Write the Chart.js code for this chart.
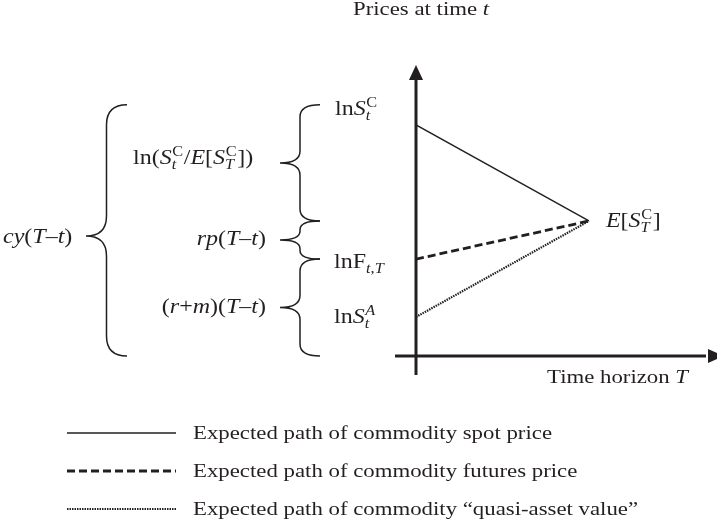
<!DOCTYPE html>
<html>
<head>
<meta charset="utf-8">
<script src="https://cdn.jsdelivr.net/npm/chart.js@4/dist/chart.umd.min.js"></script>
<style>
  html, body { margin: 0; padding: 0; background: #ffffff; }
  #wrap { width: 717px; height: 529px; position: relative; }
</style>
</head>
<body>
<div id="wrap"><canvas id="chart"></canvas></div>
<script>
// Time from t (0) to maturity T (1), in horizon units
const horizon = [0, 1];

// Log-price levels of the three expected paths (they meet at E[S_T^C])
const spotPath = [7.94, 4.64];
const futuresPath = [3.33, 4.64];
const quasiPath = [1.34, 4.64];

// Levels bounded by the braces: top of lnS^C, E[S_T^C], lnF, floor
const braceLevels = [8.63, 4.64, 3.33, 0];

const seriesNames = [
  'Expected path of commodity spot price',
  'Expected path of commodity futures price',
  'Expected path of commodity \u201Cquasi-asset value\u201D'
];

const axisTitles = { y: 'Prices at time ', x: 'Time horizon ' };

const INK = '#231f20';
const FONT = '"Liberation Serif", "Times New Roman", serif';
const SX = 1.2;      // horizontal stretch of the text face
const BASE = 19;     // plain text size, px
const MATH = 20;     // formula label size, px

// ---------- rich text helpers (italics, sub/superscripts) ----------
function fontFor(size, italic) {
  return (italic ? 'italic ' : '') + size + 'px ' + FONT;
}
function simpleWidth(ctx, list, size) {
  let w = 0;
  for (const p of list) { ctx.font = fontFor(size, p.i); w += ctx.measureText(p.t).width; }
  return w;
}
function partWidth(ctx, p, size) {
  const ss = size * 0.68;
  if (p.sup || p.sub) {
    return Math.max(p.sup ? simpleWidth(ctx, p.sup, ss) : 0, p.sub ? simpleWidth(ctx, p.sub, ss) : 0) + 1;
  }
  ctx.font = fontFor(size, p.i);
  return ctx.measureText(p.t).width;
}
function drawSimple(ctx, list, x, y, size) {
  for (const p of list) {
    ctx.font = fontFor(size, p.i);
    ctx.fillText(p.t, x, y);
    x += ctx.measureText(p.t).width;
  }
}
function drawRich(ctx, parts, x, y, size, align) {
  ctx.save();
  ctx.fillStyle = INK;
  ctx.textBaseline = 'alphabetic';
  ctx.textAlign = 'left';
  let total = 0;
  for (const p of parts) total += partWidth(ctx, p, size);
  const x0 = align === 'right' ? x - total * SX : x;
  ctx.translate(x0, y);
  ctx.scale(SX, 1);
  let cx = 0;
  const ss = size * 0.68;
  for (const p of parts) {
    if (p.sup || p.sub) {
      if (p.sup) drawSimple(ctx, p.sup, cx + 0.5, -size * 0.40, ss);
      if (p.sub) drawSimple(ctx, p.sub, cx, size * 0.24, ss);
    } else {
      ctx.font = fontFor(size, p.i);
      ctx.fillText(p.t, cx, 0);
    }
    cx += partWidth(ctx, p, size);
  }
  ctx.restore();
}
const R = t => ({ t });
const I = t => ({ t, i: true });

// ---------- labels ----------
const labelSpotStart = [R('ln'), I('S'), { sup: [R('C')], sub: [I('t')] }];
const labelFutStart = [R('lnF'), { sub: [I('t'), R(','), I('T')] }];
const labelQuasiStart = [R('ln'), I('S'), { sup: [I('A')], sub: [I('t')] }];
const labelMeet = [I('E'), R('['), I('S'), { sup: [R('C')], sub: [I('T')] }, R(']')];
const labelRatio = [R('ln('), I('S'), { sup: [R('C')], sub: [I('t')] }, R('/'), I('E'), R('['), I('S'),
                    { sup: [R('C')], sub: [I('T')] }, R('])')];
const labelRp = [I('rp'), R('('), I('T'), R('\u2013'), I('t'), R(')')];
const labelRm = [R('('), I('r'), R('+'), I('m'), R(')('), I('T'), R('\u2013'), I('t'), R(')')];
const labelCy = [I('cy'), R('('), I('T'), R('\u2013'), I('t'), R(')')];

// ---------- brace drawing ----------
function brace(ctx, xTip, xArm, yTop, yBot, yTip, r) {
  const xm = (xTip + xArm) / 2;
  const rt = Math.min(r, (yTip - yTop) / 2.2);
  const rb = Math.min(r, (yBot - yTip) / 2.2);
  ctx.beginPath();
  ctx.moveTo(xArm, yTop);
  ctx.quadraticCurveTo(xm, yTop, xm, yTop + rt);
  ctx.lineTo(xm, yTip - rt);
  ctx.quadraticCurveTo(xm, yTip, xTip, yTip);
  ctx.quadraticCurveTo(xm, yTip, xm, yTip + rb);
  ctx.lineTo(xm, yBot - rb);
  ctx.quadraticCurveTo(xm, yBot, xArm, yBot);
  ctx.stroke();
}

const diagramPlugin = {
  id: 'diagram',
  beforeDatasetsDraw(chart) {
    const { ctx } = chart;
    const xs = chart.scales.x, ys = chart.scales.y;
    const ox = xs.getPixelForValue(0), oy = ys.getPixelForValue(0);
    const top = chart.chartArea.top, right = chart.chartArea.right;
    ctx.save();
    ctx.strokeStyle = INK;
    ctx.fillStyle = INK;
    ctx.lineWidth = 3;
    // vertical axis with arrow
    ctx.beginPath();
    ctx.moveTo(ox, oy + 19);
    ctx.lineTo(ox, top + 12);
    ctx.stroke();
    ctx.beginPath();
    ctx.moveTo(ox, top);
    ctx.lineTo(ox - 7, top + 15);
    ctx.lineTo(ox + 7, top + 15);
    ctx.closePath();
    ctx.fill();
    // horizontal axis with arrow
    ctx.beginPath();
    ctx.moveTo(ox - 21, oy);
    ctx.lineTo(right - 4, oy);
    ctx.stroke();
    ctx.beginPath();
    ctx.moveTo(right + 14, oy);
    ctx.lineTo(right - 2, oy - 7);
    ctx.lineTo(right - 2, oy + 7);
    ctx.closePath();
    ctx.fill();
    ctx.restore();
  },
  afterDatasetsDraw(chart) {
    const { ctx } = chart;
    const xs = chart.scales.x, ys = chart.scales.y;
    const yp = v => ys.getPixelForValue(v);
    const ox = xs.getPixelForValue(0);

    // axis titles
    drawRich(ctx, [R(axisTitles.y), I('t')], 353, 15, BASE);
    drawRich(ctx, [R(axisTitles.x), I('T')], 547, ys.getPixelForValue(0) + 27, BASE);

    // endpoint labels
    drawRich(ctx, labelSpotStart, ox - 81, yp(braceLevels[0]) + 10, MATH);
    drawRich(ctx, labelFutStart, ox - 82, yp(futuresPath[0]) + 9, MATH);
    drawRich(ctx, labelQuasiStart, ox - 82, yp(quasiPath[0]) + 6, MATH);
    drawRich(ctx, labelMeet, xs.getPixelForValue(horizon[1]) + 17, yp(spotPath[1]) + 6, MATH);

    // braces
    ctx.save();
    ctx.strokeStyle = INK;
    ctx.lineWidth = 1.5;
    const b = braceLevels.map(yp);
    brace(ctx, 280, 320, b[0], b[1], (b[0] + b[1]) / 2, 12);
    brace(ctx, 280, 320, b[1], b[2], (b[1] + b[2]) / 2, 12);
    brace(ctx, 280, 320, b[2], b[3], (b[2] + b[3]) / 2, 12);
    brace(ctx, 86, 127, b[0], b[3], 236, 20);
    ctx.restore();

    // brace descriptions
    drawRich(ctx, labelRatio, 133, (b[0] + b[1]) / 2 + 1, MATH);
    drawRich(ctx, labelRp, 266, (b[1] + b[2]) / 2 + 5, MATH, 'right');
    drawRich(ctx, labelRm, 266, (b[2] + b[3]) / 2 + 5, MATH, 'right');
    drawRich(ctx, labelCy, 3, 243, MATH);

    // legend: sample of each dataset's stroke, then its name
    chart.data.datasets.forEach((ds, i) => {
      const y = 433 + i * 38;
      ctx.save();
      ctx.strokeStyle = ds.borderColor;
      ctx.lineWidth = ds.borderWidth;
      ctx.setLineDash(ds.borderDash || []);
      ctx.beginPath();
      ctx.moveTo(67, y);
      ctx.lineTo(176, y);
      ctx.stroke();
      ctx.restore();
      drawRich(ctx, [R(ds.label)], 193, y + 6, BASE);
    });
  }
};

const toPoints = vals => horizon.map((x, k) => ({ x, y: vals[k] }));

new Chart(document.getElementById('chart'), {
  type: 'line',
  data: {
    datasets: [
      { label: seriesNames[0], data: toPoints(spotPath), borderColor: INK, borderWidth: 1.4, borderDash: [] },
      { label: seriesNames[1], data: toPoints(futuresPath), borderColor: INK, borderWidth: 2.8, borderDash: [8, 4] },
      { label: seriesNames[2], data: toPoints(quasiPath), borderColor: INK, borderWidth: 2.2, borderDash: [1.5, 1] }
    ]
  },
  options: {
    responsive: true,
    maintainAspectRatio: false,
    animation: false,
    devicePixelRatio: 1,
    layout: { padding: { left: 416, right: 7, top: 65, bottom: 173 } },
    elements: { point: { radius: 0 }, line: { tension: 0, borderCapStyle: 'butt' } },
    scales: {
      x: { type: 'linear', display: false, min: 0, max: 1.7 },
      y: { type: 'linear', display: false, min: 0, max: 10 }
    },
    plugins: { legend: { display: false }, tooltip: { enabled: false } }
  },
  plugins: [diagramPlugin]
});
</script>
</body>
</html>
